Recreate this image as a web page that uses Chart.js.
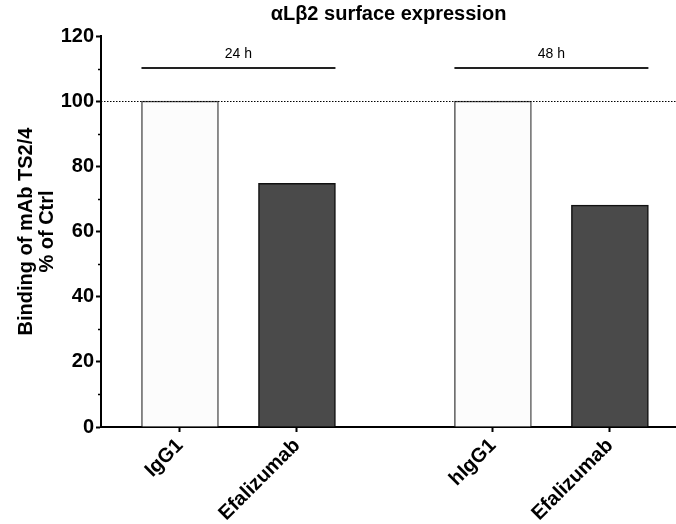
<!DOCTYPE html>
<html>
<head>
<meta charset="utf-8">
<script src="https://cdn.jsdelivr.net/npm/chart.js@4.4.1/dist/chart.umd.min.js"></script>
<style>
  body { margin: 0; background: #fff; }
  #wrap { width: 676px; height: 524px; }
</style>
</head>
<body>
<div id="wrap"><canvas id="bindingChart" width="676" height="524"></canvas></div>
<script>
  // values
  const treatments = ['IgG1', 'Efalizumab', 'hIgG1', 'Efalizumab'];
  const timepoints = ['24 h', '48 h'];
  const timepointOf = [0, 0, 1, 1];
  const binding = [100, 74.8, 100, 68.1];
  const isControl = [true, false, true, false];
  const referenceLevel = 100;   // dotted line
  const bracketLevel = 110.2;   // "24 h" / "48 h" bars
  const yMax = 120;

  const FONT = 'Arial, "Liberation Sans", sans-serif';
  const groupGap = 0.675;  // extra space between the two time points
  const barPx = 77;

  // x position of each bar, in slot units
  const slots = treatments.map((t, i) => i + timepointOf[i] * groupGap);

  const ctx = document.getElementById('bindingChart').getContext('2d');

  const extras = {
    id: 'extras',
    afterDraw(chart) {
      const c = chart.ctx;
      const x = chart.scales.x, y = chart.scales.y;
      const area = chart.chartArea;
      c.save();

      // minor ticks on the y axis
      c.strokeStyle = '#000';
      c.lineWidth = 1.5;
      for (let v = 10; v < yMax; v += 20) {
        const py = Math.round(y.getPixelForValue(v)) + 0.5;
        c.beginPath();
        c.moveTo(area.left - 3, py);
        c.lineTo(area.left, py);
        c.stroke();
      }

      // dotted 100% line
      const ry = Math.round(y.getPixelForValue(referenceLevel)) + 0.5;
      c.lineWidth = 1;
      c.setLineDash([1.5, 1.5]);
      c.beginPath();
      c.moveTo(area.left, ry);
      c.lineTo(area.right, ry);
      c.stroke();
      c.setLineDash([]);

      // time point brackets
      const by = Math.round(y.getPixelForValue(bracketLevel));
      c.lineWidth = 2;
      c.strokeStyle = '#222';
      c.fillStyle = '#000';
      c.font = '14px ' + FONT;
      c.textAlign = 'center';
      c.textBaseline = 'bottom';
      timepoints.forEach((tp, g) => {
        const idx = slots.filter((s, i) => timepointOf[i] === g);
        const x0 = x.getPixelForValue(idx[0]) - barPx / 2;
        const x1 = x.getPixelForValue(idx[idx.length - 1]) + barPx / 2;
        c.beginPath();
        c.moveTo(x0, by);
        c.lineTo(x1, by);
        c.stroke();
        c.fillText(tp, (x0 + x1) / 2, by - 7);
      });
      c.restore();
    }
  };

  new Chart(ctx, {
    type: 'bar',
    data: {
      datasets: [{
        data: slots.map((s, i) => ({ x: s, y: binding[i] })),
        backgroundColor: isControl.map(c => c ? '#fcfcfc' : '#4a4a4a'),
        borderColor: isControl.map(c => c ? '#555' : '#111'),
        borderWidth: 1.5,
        barThickness: barPx
      }]
    },
    options: {
      responsive: false,
      animation: false,
      layout: { padding: 0 },
      plugins: {
        legend: { display: false },
        tooltip: { enabled: false },
        title: {
          display: true,
          text: 'αLβ2 surface expression',
          fullSize: false,
          color: '#000',
          font: { family: FONT, size: 20, weight: 'bold' },
          padding: { top: 2, bottom: 10 }
        }
      },
      scales: {
        x: {
          type: 'linear',
          min: -groupGap,
          max: 4.24,
          offset: false,
          grid: { drawOnChartArea: false, offset: false, tickLength: 5, tickWidth: 2, tickColor: '#000' },
          border: { color: '#000', width: 2 },
          afterBuildTicks(scale) {
            scale.ticks = slots.map(v => ({ value: v }));
          },
          afterFit(scale) {
            scale.height = 97;
            scale.paddingLeft = 0;
            scale.paddingRight = 0;
          },
          ticks: {
            autoSkip: false,
            minRotation: 45,
            maxRotation: 45,
            padding: 2,
            color: '#000',
            font: { family: FONT, size: 20, weight: 'bold' },
            callback: (v, i) => treatments[i]
          }
        },
        y: {
          min: 0,
          max: yMax,
          grid: { drawOnChartArea: false, tickLength: 5, tickWidth: 2, tickColor: '#000' },
          border: { color: '#000', width: 2 },
          afterFit(scale) {
            scale.width = 101;
            scale.paddingTop = 0;
            scale.paddingBottom = 0;
          },
          ticks: {
            stepSize: 20,
            padding: 2,
            color: '#000',
            font: { family: FONT, size: 20, weight: 'bold' }
          },
          title: {
            display: true,
            text: ['Binding of mAb TS2/4', '% of Ctrl'],
            color: '#000',
            font: { family: FONT, size: 20, weight: 'bold', lineHeight: 1.05 },
            padding: { top: 16, bottom: 0 }
          }
        }
      }
    },
    plugins: [extras]
  });
</script>
</body>
</html>
